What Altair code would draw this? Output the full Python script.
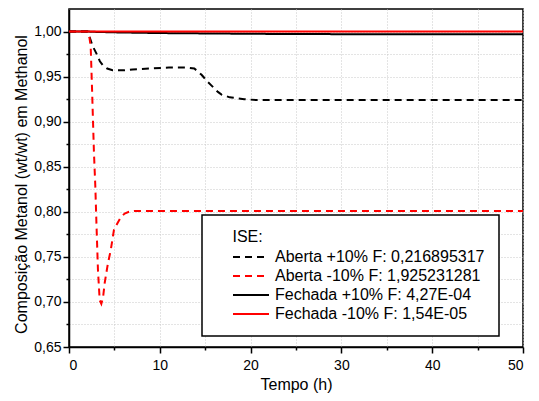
import altair as alt
import pandas as pd

# Series names (legend labels)
series_names = [
    "Aberta +10% F: 0,216895317",
    "Aberta -10% F: 1,925231281",
    "Fechada +10% F: 4,27E-04",
    "Fechada -10% F: 1,54E-05",
]

# Aberta +10% (black dashed)
t_ab_plus = [0, 2.0, 2.3, 2.6, 3.0, 3.4, 3.7, 4.2, 4.8, 6, 7, 9, 11, 13, 13.8, 14.2, 14.6,
             15.3, 15.7, 16.4, 16.8, 17.7, 19.3, 20.6, 30, 40, 50]
v_ab_plus = [1.0, 1.0, 0.993, 0.984, 0.976, 0.967, 0.963, 0.959, 0.957, 0.957, 0.958, 0.959,
             0.960, 0.960, 0.959, 0.9556, 0.952, 0.944, 0.940, 0.933, 0.930, 0.927, 0.925,
             0.924, 0.924, 0.924, 0.924]

# Aberta -10% (red dashed)
t_ab_minus = [0, 2.0, 2.2, 2.3, 2.39, 2.53, 2.64, 2.75, 2.90, 3.01, 3.19, 3.38, 3.56, 3.75,
              3.93, 4.29, 4.59, 4.95, 5.32, 5.7, 6.13, 6.6, 7.2, 10, 20, 30, 40, 50]
v_ab_minus = [1.0, 1.0, 0.997, 0.99, 0.983, 0.939, 0.902, 0.865, 0.828, 0.791, 0.735, 0.702,
              0.698, 0.705, 0.721, 0.743, 0.757, 0.780, 0.787, 0.794, 0.798, 0.800, 0.801,
              0.801, 0.801, 0.801, 0.801, 0.801]

# Fechada +10% (black solid)
t_fe_plus = [0, 2, 3, 5, 8, 10, 15, 20, 25, 30, 40, 50]
v_fe_plus = [1.0, 1.0, 0.9996, 0.9991, 0.9986, 0.9983, 0.9979, 0.9975, 0.9972, 0.9971,
             0.9970, 0.9970]

# Fechada -10% (red solid)
t_fe_minus = [0, 10, 20, 30, 40, 50]
v_fe_minus = [1.0, 1.0, 1.0, 1.0, 1.0, 1.0]

color_range = ["#000000", "#ff0000", "#000000", "#ff0000"]
dash_range = [[7, 5], [7, 5], [1, 0], [1, 0]]
width_range = [2, 2, 2.5, 3]

y_ticks = [round(0.65 + 0.025 * i, 3) for i in range(15)]
x_ticks = [5 * i for i in range(11)]

rows = []
for name, ts, vs in zip(series_names,
                        [t_ab_plus, t_ab_minus, t_fe_plus, t_fe_minus],
                        [v_ab_plus, v_ab_minus, v_fe_plus, v_fe_minus]):
    for t, v in zip(ts, vs):
        rows.append({"series": name, "t": t, "v": v})
df = pd.DataFrame(rows)

FONT = "Liberation Sans"

major_y = "round(datum.value*1000) % 50 == 0"
major_x = "datum.value % 10 == 0"

legend = alt.Legend(
    title="\u2800\u00a0ISE:",
    orient="none",
    legendX=133,
    legendY=206,
    fillColor="white",
    strokeColor="black",
    padding=14,
    symbolType="stroke",
    symbolSize=1296,
    clipHeight=16,
    symbolOffset=16,
    labelOffset=5,
    rowPadding=3,
    titlePadding=4,
    labelFontSize=16,
    titleFontSize=16,
    titleFontWeight="normal",
    labelFont=FONT,
    titleFont=FONT,
    labelLimit=400,
    labelExpr="datum.label + '\u00a0\u00a0\u00a0\u00a0'",
    labelColor="black",
    titleColor="black",
)

chart = alt.Chart(df).mark_line(clip=True).encode(
    x=alt.X("t:Q",
            scale=alt.Scale(domain=[0, 50], nice=False),
            axis=alt.Axis(
                title="Tempo (h)",
                values=x_ticks,
                labelExpr=f"{major_x} ? datum.label : ''",
                tickSize={"condition": {"test": major_x, "value": 6}, "value": 3},
                labelPadding=5,
                titlePadding=4,
            )),
    y=alt.Y("v:Q",
            scale=alt.Scale(domain=[0.65, 1.025], nice=False, zero=False),
            axis=alt.Axis(
                title="Composição Metanol (wt/wt) em Methanol",
                values=y_ticks,
                labelExpr=f"{major_y} ? replace(format(datum.value, '.2f'), '.', ',') : ''",
                tickSize={"condition": {"test": major_y, "value": 6}, "value": 3},
                labelPadding=2,
                titleX=-40,
                titleY=175,
            )),
    color=alt.Color("series:N",
                    scale=alt.Scale(domain=series_names, range=color_range),
                    legend=legend),
    strokeDash=alt.StrokeDash("series:N",
                              scale=alt.Scale(domain=series_names, range=dash_range),
                              legend=legend),
    strokeWidth=alt.StrokeWidth("series:N",
                                scale=alt.Scale(domain=series_names, range=width_range),
                                legend=legend),
    order=alt.Order("t:Q"),
).properties(
    width=454,
    height=338,
    autosize=alt.AutoSizeParams(type="none"),
    padding={"left": 61, "top": 1, "right": 7, "bottom": 46},
).configure(
    font=FONT,
).configure_view(
    stroke="black",
    strokeWidth=1.5,
).configure_axis(
    grid=True,
    gridColor="#c8c8c8",
    gridDash=[1, 2],
    gridWidth=1,
    domainColor="black",
    domainWidth=1.5,
    tickColor="black",
    tickWidth=1.5,
    labelFont=FONT,
    titleFont=FONT,
    labelFontSize=14,
    titleFontSize=16,
    titleFontWeight="normal",
    labelColor="black",
    titleColor="black",
).configure_legend(
    strokeWidth=1.5,
)

chart.save("out.html", embed_options={"renderer": "svg", "actions": False})
